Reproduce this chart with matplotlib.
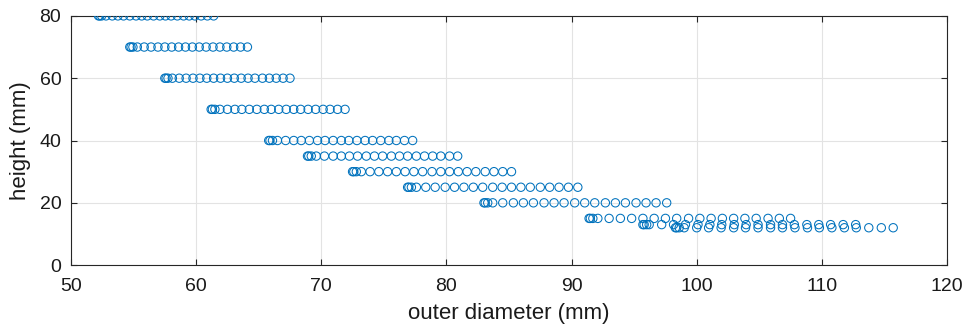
import numpy as np
import matplotlib
matplotlib.use('Agg')
import matplotlib.pyplot as plt

# heights (mm) of each row
heights = [80, 70, 60, 50, 40, 35, 30, 25, 20, 15, 13, 12]

d80 = [52.2, 52.3, 52.45, 52.8, 53.3, 53.75, 54.2, 54.7, 55.2, 55.65, 56.1, 56.6, 57.1,
       57.55, 58.0, 58.5, 59.0, 59.45, 59.9, 60.4, 60.9, 61.4]
d70 = [54.7, 54.8, 54.95, 55.3, 55.85, 56.4, 56.95, 57.5, 58.05, 58.6, 59.15, 59.7,
       60.25, 60.8, 61.35, 61.9, 62.45, 63.0, 63.55, 64.1]
d60 = [57.5, 57.6, 57.75, 58.1, 58.65, 59.2, 59.75, 60.3, 60.85, 61.4, 61.95, 62.5,
       63.05, 63.6, 64.15, 64.7, 65.3, 65.85, 66.4, 66.95, 67.5]
d50 = [61.2, 61.3, 61.5, 61.9, 62.5, 63.1, 63.65, 64.25, 64.85, 65.45, 66.0, 66.6,
       67.2, 67.8, 68.35, 68.95, 69.55, 70.15, 70.7, 71.3, 71.9]
d40 = [65.8, 65.9, 66.1, 66.5, 67.15, 67.8, 68.4, 69.05, 69.7, 70.3, 70.95, 71.6,
       72.2, 72.85, 73.5, 74.1, 74.75, 75.4, 76.0, 76.65, 77.3]
d35 = [68.9, 69.0, 69.2, 69.6, 70.25, 70.95, 71.6, 72.25, 72.9, 73.6, 74.25, 74.9,
       75.6, 76.25, 76.9, 77.6, 78.25, 78.9, 79.55, 80.25, 80.9]
d30 = [72.5, 72.6, 72.8, 73.2, 73.9, 74.6, 75.3, 76.0, 76.7, 77.4, 78.1, 78.85,
       79.55, 80.25, 80.95, 81.65, 82.35, 83.1, 83.8, 84.5, 85.2]
d25 = [76.9, 77.0, 77.2, 77.6, 78.35, 79.1, 79.9, 80.65, 81.4, 82.15, 82.9, 83.7,
       84.45, 85.2, 85.95, 86.7, 87.5, 88.25, 89.0, 89.75, 90.5]
d20 = [83.0, 83.1, 83.3, 83.7, 84.5, 85.35, 86.15, 86.95, 87.8, 88.6, 89.4, 90.25,
       91.05, 91.85, 92.7, 93.5, 94.3, 95.15, 95.95, 96.75, 97.6]
d15 = [91.4, 91.5, 91.7, 92.1, 93.0, 93.9, 94.8, 95.7, 96.6, 97.5, 98.4, 99.35,
       100.25, 101.15, 102.05, 102.95, 103.85, 104.75, 105.7, 106.6, 107.5]
d13 = [95.7, 95.8, 96.0, 96.2, 97.2, 98.15, 99.1, 100.1, 101.05, 102.0, 103.0, 103.95,
       104.9, 105.9, 106.85, 107.8, 108.8, 109.75, 110.7, 111.7, 112.7]
d12 = [98.3, 98.4, 98.6, 99.0, 100.0, 100.95, 101.95, 102.95, 103.9, 104.9, 105.9,
       106.85, 107.85, 108.85, 109.8, 110.8, 111.8, 112.75, 113.75, 114.75, 115.7]

diams = [d80, d70, d60, d50, d40, d35, d30, d25, d20, d15, d13, d12]

x = np.concatenate([np.array(d) for d in diams])
y = np.concatenate([np.full(len(d), h) for d, h in zip(diams, heights)])

plt.rcParams['font.family'] = ['Liberation Sans', 'DejaVu Sans']

fig = plt.figure(figsize=(9.71, 3.31), dpi=100)
ax = fig.add_axes([0.0731, 0.199, 0.9022, 0.753])

ax.scatter(x, y, s=36, facecolors='none', edgecolors='#0072BD', linewidths=0.75, zorder=3)

ax.set_xlim(50, 120)
ax.set_ylim(0, 80)
ax.set_xticks(np.arange(50, 121, 10))
ax.set_yticks(np.arange(0, 81, 20))
ax.grid(True, color='#e3e3e3', linewidth=0.8)
ax.set_axisbelow(True)
ax.tick_params(direction='in', top=True, right=True, labelsize=14, length=4,
               color='#262626', labelcolor='#1a1a1a')
ax.tick_params(axis='x', pad=9)
ax.tick_params(axis='y', pad=7)
for s in ax.spines.values():
    s.set_color('#262626')
    s.set_linewidth(0.8)

ax.set_xlabel('outer diameter (mm)', fontsize=16, color='#1a1a1a', labelpad=6)
ax.set_ylabel('height (mm)', fontsize=16, color='#1a1a1a', labelpad=6)

plt.savefig('out.png', dpi=100)
